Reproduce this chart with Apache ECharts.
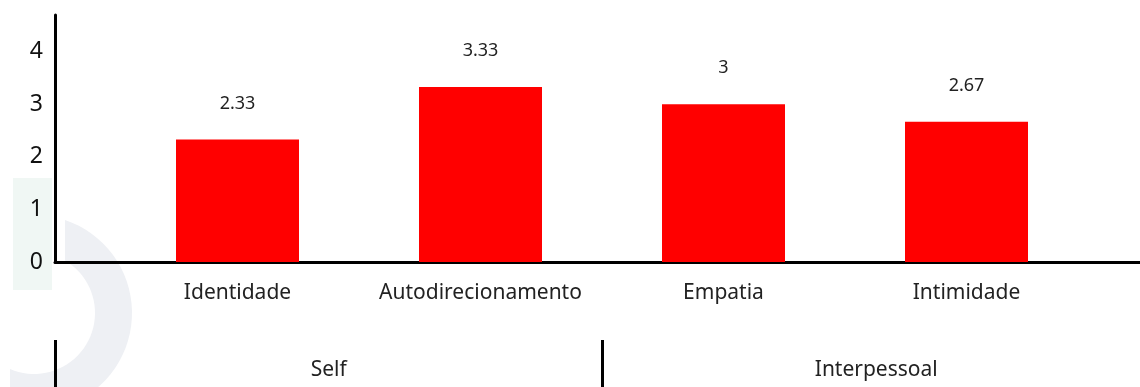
<!DOCTYPE html>
<html>
<head>
<meta charset="utf-8">
<script src="https://cdn.jsdelivr.net/npm/echarts@6/dist/echarts.min.js"></script>
<style>
html,body{margin:0;padding:0;background:#fff;}
#chart{width:1140px;height:387px;}
</style>
</head>
<body>
<div id="chart"></div>
<script>
// ---- data ----
const categories = ['Identidade', 'Autodirecionamento', 'Empatia', 'Intimidade'];
const scores = [2.33, 3.33, 3, 2.67];
const groups = ['Self', 'Interpessoal'];
const yMin = 0;
const yMax = 4.7;
const yInterval = 1;

// ---- watermark decoration (logo-like ring) ----
function ringPoints(cx, cy, r, r0) {
  const pts = [];
  const a1 = -Math.acos((65 - cx) / r), a2 = Math.acos((10 - cx) / r);
  const b1 = Math.acos((10 - cx) / r0), b2 = -Math.acos((65 - cx) / r0);
  for (let i = 0; i <= 40; i++) { const a = a1 + (a2 - a1) * i / 40; pts.push([cx + r * Math.cos(a), cy + r * Math.sin(a)]); }
  for (let i = 0; i <= 40; i++) { const a = b1 + (b2 - b1) * i / 40; pts.push([cx + r0 * Math.cos(a), cy + r0 * Math.sin(a)]); }
  return pts;
}

const chart = echarts.init(document.getElementById('chart'), null, {renderer: 'canvas'});
const FONT = 'Noto Sans';
chart.setOption({
  animation: false,
  backgroundColor: '#ffffff',
  graphic: [
    {type: 'rect', z: -10, silent: true, shape: {x: 13, y: 178, width: 39, height: 112}, style: {fill: '#f0f7f4'}},
    {type: 'polygon', z: -10, silent: true, shape: {points: ringPoints(34, 313, 98, 61)}, style: {fill: '#eef0f4'}}
  ],
  grid: [
    {left: 116, right: 52, top: 15, bottom: 125, outerBoundsMode: 'none'},   // bars
    {left: 55, right: -10, top: 340, bottom: 0, outerBoundsMode: 'none'},    // group axis
    {left: 55, right: 0, top: 15, bottom: 125, outerBoundsMode: 'none'}      // axis frame
  ],
  xAxis: [
    {
      gridIndex: 0, type: 'category', data: categories,
      axisLine: {show: false}, axisTick: {show: false},
      axisLabel: {interval: 0, fontFamily: FONT, fontSize: 21, color: '#222', margin: 21}
    },
    {
      gridIndex: 1, type: 'category', data: groups, position: 'top',
      axisLine: {show: false},
      axisTick: {show: false},
      splitLine: {show: true, interval: 0, lineStyle: {color: '#000', width: 3}},
      axisLabel: {inside: true, interval: 0, fontFamily: FONT, fontSize: 21, color: '#222', margin: 20}
    },
    {
      gridIndex: 2, type: 'value', min: 0, max: 1,
      axisLine: {show: true, lineStyle: {color: '#000', width: 3}},
      axisTick: {show: false}, axisLabel: {show: false}, splitLine: {show: false}
    }
  ],
  yAxis: [
    {gridIndex: 0, type: 'value', min: yMin, max: yMax, interval: yInterval, show: false},
    {gridIndex: 1, type: 'value', show: false, splitLine: {show: false}},
    {
      gridIndex: 2, type: 'value', min: yMin, max: yMax, interval: yInterval,
      axisLine: {show: true, lineStyle: {color: '#000', width: 3}},
      axisTick: {show: false}, splitLine: {show: false},
      axisLabel: {fontFamily: FONT, fontSize: 23, color: '#111', margin: 12, showMaxLabel: false}
    }
  ],
  series: [{
    type: 'bar', xAxisIndex: 0, yAxisIndex: 0,
    data: scores, barWidth: 123,
    itemStyle: {color: '#ff0000'},
    label: {show: true, position: 'top', distance: 27, fontFamily: FONT, fontSize: 18, color: '#222'}
  }]
});
</script>
</body>
</html>
